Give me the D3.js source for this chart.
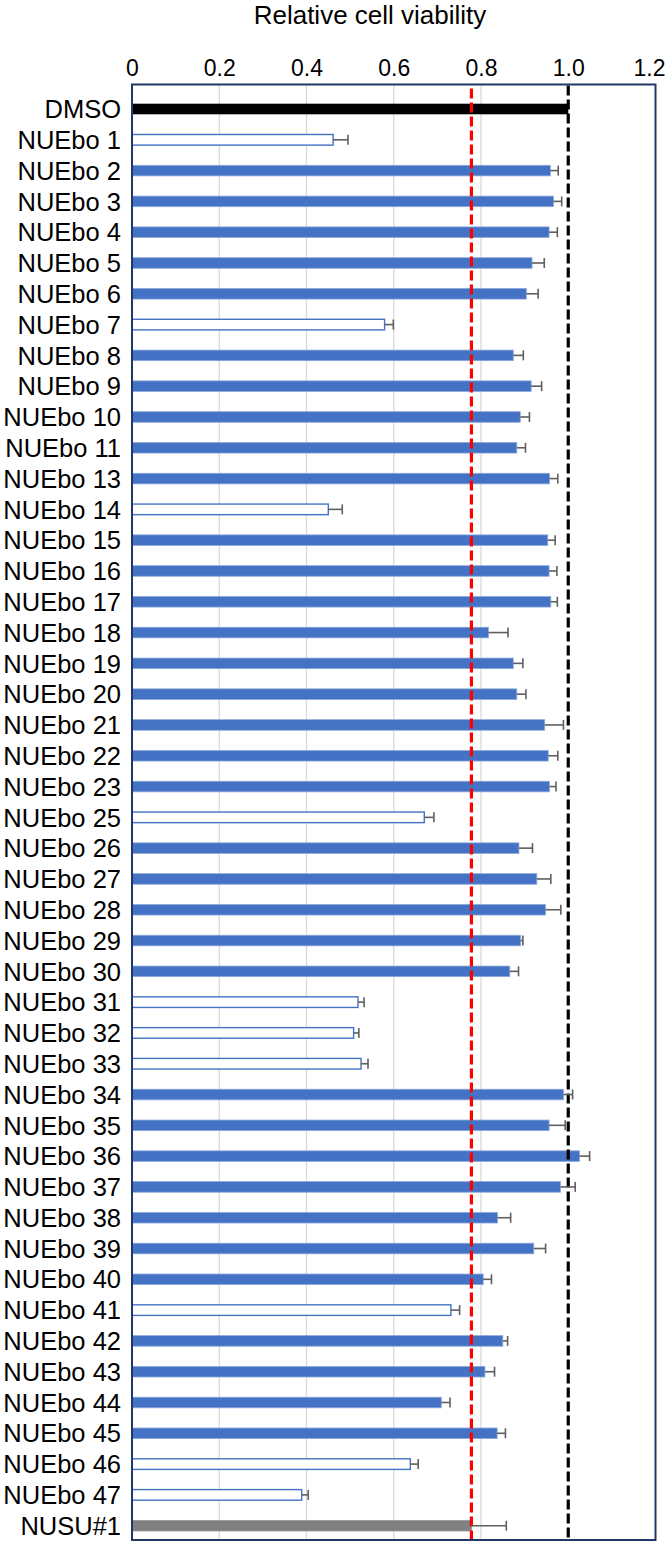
<!DOCTYPE html>
<html>
<head>
<meta charset="utf-8">
<script src="https://cdn.jsdelivr.net/npm/d3@7"></script>
<style>
  html, body { margin: 0; padding: 0; background: #fff; }
  svg text { font-family: "Liberation Sans", Arial, sans-serif; fill: #000; }
</style>
</head>
<body>
<svg id="chart" width="666" height="1543"></svg>
<script>
const title = "Relative cell viability";
const categories = ["DMSO", "NUEbo 1", "NUEbo 2", "NUEbo 3", "NUEbo 4", "NUEbo 5", "NUEbo 6", "NUEbo 7", "NUEbo 8", "NUEbo 9", "NUEbo 10", "NUEbo 11", "NUEbo 13", "NUEbo 14", "NUEbo 15", "NUEbo 16", "NUEbo 17", "NUEbo 18", "NUEbo 19", "NUEbo 20", "NUEbo 21", "NUEbo 22", "NUEbo 23", "NUEbo 25", "NUEbo 26", "NUEbo 27", "NUEbo 28", "NUEbo 29", "NUEbo 30", "NUEbo 31", "NUEbo 32", "NUEbo 33", "NUEbo 34", "NUEbo 35", "NUEbo 36", "NUEbo 37", "NUEbo 38", "NUEbo 39", "NUEbo 40", "NUEbo 41", "NUEbo 42", "NUEbo 43", "NUEbo 44", "NUEbo 45", "NUEbo 46", "NUEbo 47", "NUSU#1"];
const values = [1.0, 0.461, 0.959, 0.966, 0.956, 0.917, 0.904, 0.579, 0.874, 0.915, 0.890, 0.882, 0.957, 0.450, 0.953, 0.956, 0.960, 0.817, 0.874, 0.882, 0.946, 0.954, 0.957, 0.670, 0.887, 0.928, 0.948, 0.891, 0.866, 0.518, 0.508, 0.525, 0.989, 0.956, 1.026, 0.982, 0.838, 0.921, 0.805, 0.731, 0.850, 0.809, 0.709, 0.837, 0.638, 0.389, 0.778];
const errors = [0, 0.034, 0.018, 0.019, 0.019, 0.028, 0.027, 0.020, 0.023, 0.024, 0.021, 0.020, 0.019, 0.032, 0.017, 0.018, 0.015, 0.045, 0.022, 0.021, 0.043, 0.022, 0.015, 0.022, 0.031, 0.032, 0.035, 0.005, 0.020, 0.014, 0.012, 0.016, 0.021, 0.037, 0.023, 0.034, 0.030, 0.027, 0.019, 0.020, 0.011, 0.022, 0.020, 0.019, 0.018, 0.015, 0.080];
const openBars = ["NUEbo 1", "NUEbo 7", "NUEbo 14", "NUEbo 25", "NUEbo 31", "NUEbo 32", "NUEbo 33", "NUEbo 41", "NUEbo 46", "NUEbo 47"];
const controlName = "DMSO";
const referenceName = "NUSU#1";
const tickValues = [0, 0.2, 0.4, 0.6, 0.8, 1.0, 1.2];
const tickLabels = ["0", "0.2", "0.4", "0.6", "0.8", "1.0", "1.2"];
const gridValues = [0.2, 0.4, 0.6, 0.8];
const controlLine = 1.0;
const thresholdLine = 0.778;

const svg = d3.select("#chart");
svg.append("rect").attr("width", 666).attr("height", 1543).attr("fill", "#fff");

const frame = { left: 132, right: 655.5, top: 84.5, bottom: 1540 };
const x = d3.scaleLinear().domain([0, 1.2]).range([frame.left, frame.right]);
const y = d3.scalePoint().domain(categories).range([109, 1525.7]);
const barH = 10.6;

// title
svg.append("text").attr("x", 370).attr("y", 24).attr("text-anchor", "middle")
  .style("font-size", "26px").text(title);

// gridlines
svg.append("g").selectAll("line").data(gridValues).join("line")
  .attr("x1", d => x(d)).attr("x2", d => x(d))
  .attr("y1", frame.top).attr("y2", frame.bottom)
  .attr("stroke", "#d9d9d9").attr("stroke-width", 1.3);

// top axis tick labels
const axis = d3.axisTop(x).tickValues(tickValues).tickFormat((d, i) => tickLabels[i]).tickSize(0).tickPadding(0);
const gAxis = svg.append("g").attr("transform", `translate(0,${76})`).call(axis);
gAxis.select(".domain").remove();
gAxis.selectAll("text").attr("dy", 0).attr("y", 0)
  .style("font-size", "23px").style("font-family", "'Liberation Sans', Arial, sans-serif").attr("fill", "#000");
// keep the last label inside the picture, as in the reference
gAxis.selectAll(".tick").filter(d => d === 1.2).select("text")
  .attr("text-anchor", "end").attr("x", 665 - x(1.2));

// bars
const rows = categories.map((c, i) => ({ c, v: values[i], e: errors[i] }));
svg.append("g").selectAll("rect").data(rows).join("rect")
  .attr("x", x(0))
  .attr("y", d => y(d.c) - barH / 2)
  .attr("width", d => x(d.v) - x(0))
  .attr("height", barH)
  .attr("fill", d => d.c === controlName ? "#000" : d.c === referenceName ? "#808080" : openBars.includes(d.c) ? "#fff" : "#4472c4")
  .attr("stroke", d => d.c === controlName ? "none" : d.c === referenceName ? "#999" : openBars.includes(d.c) ? "#4472c4" : "#8eaadb")
  .attr("stroke-width", d => openBars.includes(d.c) ? 1.4 : 0.8);

// reference lines
svg.append("line").attr("x1", x(controlLine)).attr("x2", x(controlLine))
  .attr("y1", frame.top + 1).attr("y2", frame.bottom)
  .attr("stroke", "#000").attr("stroke-width", 3.2).attr("stroke-dasharray", "10,4");
svg.append("line").attr("x1", x(thresholdLine)).attr("x2", x(thresholdLine))
  .attr("y1", frame.top + 4).attr("y2", frame.bottom)
  .attr("stroke", "#ff0000").attr("stroke-width", 3.2).attr("stroke-dasharray", "10,4");

// error bars
const eb = svg.append("g").attr("stroke", "#5f5f5f").attr("stroke-width", 1.6);
const ebRows = rows.filter(d => d.e > 0);
eb.selectAll("line.h").data(ebRows).join("line").attr("class", "h")
  .attr("x1", d => x(d.v)).attr("x2", d => x(d.v + d.e))
  .attr("y1", d => y(d.c)).attr("y2", d => y(d.c));
eb.selectAll("line.c").data(ebRows).join("line").attr("class", "c")
  .attr("x1", d => x(d.v + d.e)).attr("x2", d => x(d.v + d.e))
  .attr("y1", d => y(d.c) - 5).attr("y2", d => y(d.c) + 5);

// category labels
svg.append("g").selectAll("text").data(categories).join("text")
  .attr("x", 121).attr("y", d => y(d)).attr("dy", "0.36em")
  .attr("text-anchor", "end").style("font-size", "25.5px").text(d => d);

// frame
svg.append("rect").attr("x", frame.left).attr("y", frame.top)
  .attr("width", frame.right - frame.left).attr("height", frame.bottom - frame.top)
  .attr("fill", "none").attr("stroke", "#203864").attr("stroke-width", 2);
</script>
</body>
</html>
